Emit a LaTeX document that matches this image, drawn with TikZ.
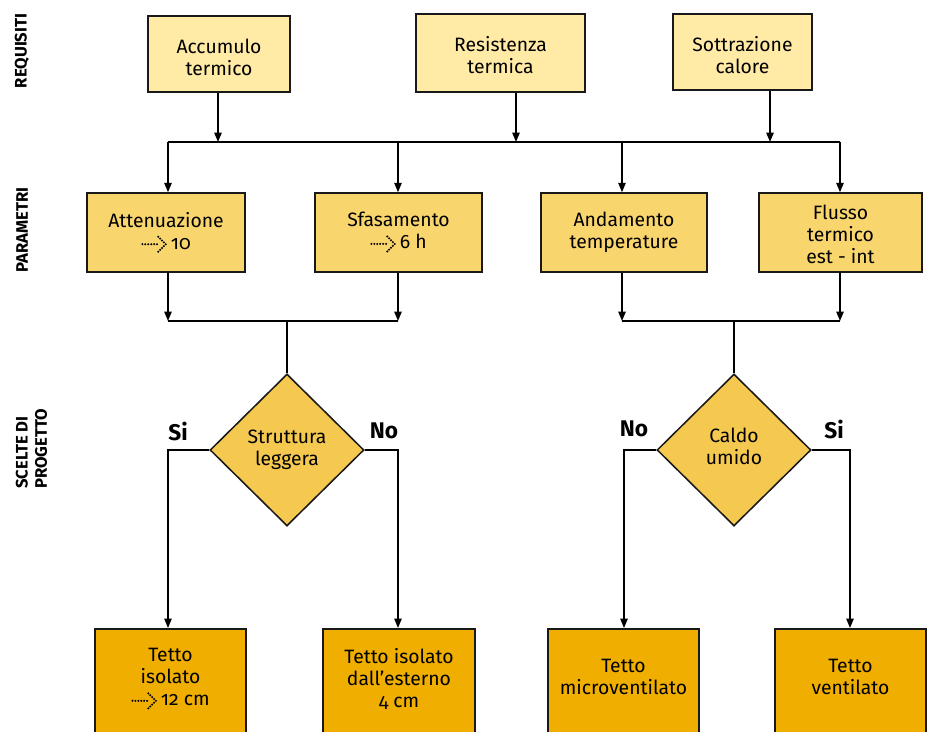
\documentclass[tikz,border=0pt]{standalone}
\usepackage{fontspec}
\setmainfont{Fira Sans}[Numbers=OldStyle]
\usetikzlibrary{arrows.meta,shapes.geometric}
\definecolor{cTop}{HTML}{FFEAA6}
\definecolor{cPar}{HTML}{F9D56E}
\definecolor{cDia}{HTML}{F5C850}
\definecolor{cBot}{HTML}{EFAE00}
\newcommand\fs{\fontsize{14.5}{16.5}\selectfont}
\newcommand\sidefs{\fontsize{12.5}{14.5}\selectfont}
\newcommand\ynfs{\fontsize{17}{19}\selectfont}
\newsavebox\dotarrbox
\newcommand\dotarr{\usebox\dotarrbox\hspace{3pt}}
\newcommand\dotat[2]{\pgfpathcircle{\pgfpoint{#1}{#2}}{0.85pt}}
\tikzset{
  box/.style={draw=black!90, line width=1.15pt, rectangle, align=center, inner sep=2pt, font=\fs},
  topbox/.style={box, fill=cTop},
  parbox/.style={box, fill=cPar, minimum height=59.25pt},
  botbox/.style={box, fill=cBot, minimum height=99pt, anchor=north},
  txt/.style={align=center, font=\fs, inner sep=0pt},
  dia/.style={diamond, draw=black!90, line width=1.15pt, fill=cDia, minimum width=115.5pt, minimum height=114pt, inner sep=0pt, align=center, font=\fs},
  ln/.style={line width=1.1pt},
  arr/.style={ln, -{Triangle[length=7pt,width=5.5pt]}},
  side/.style={rotate=90, font=\sidefs\bfseries, align=left, inner sep=0pt},
  yn/.style={font=\ynfs\bfseries, inner sep=0pt}
}
\begin{document}
\sbox\dotarrbox{\begin{pgfpicture}%
  \pgfsetbaseline{-3.8pt}%
  \dotat{0pt}{0pt}\dotat{2.2pt}{0pt}\dotat{4.4pt}{0pt}\dotat{6.6pt}{0pt}%
  \dotat{8.8pt}{0pt}\dotat{11pt}{0pt}%
  \dotat{16.1pt}{1.4pt}\dotat{14.7pt}{2.8pt}\dotat{13.3pt}{4.2pt}\dotat{11.9pt}{5.6pt}%
  \dotat{16.1pt}{-1.4pt}\dotat{14.7pt}{-2.8pt}\dotat{13.3pt}{-4.2pt}\dotat{11.9pt}{-5.6pt}%
  \dotat{17.5pt}{0pt}%
  \pgfusepath{fill}%
\end{pgfpicture}}%
\begin{tikzpicture}[x=0.75pt,y=-0.75pt]
\useasboundingbox (0,0) rectangle (932,732);
\clip (0,0) rectangle (932,732);

% side labels
\node[side] (sReq) at (22,51) {REQUISITI};
\node[side] (sPar) at (22,230) {PARAMETRI};
\node[side, anchor=west] (sSce) at (31.5,489) {SCELTE DI\\PROGETTO};

% top boxes
\node[topbox, minimum width=106.5pt, minimum height=57pt] (t1) at (219,54) {};
\node[topbox, minimum width=126.75pt, minimum height=58.5pt] (t2) at (500.5,53) {};
\node[topbox, minimum width=104.25pt, minimum height=57pt] (t3) at (742.5,52) {};
\node[txt] (t1t) at (219,57) {Accumulo\\termico};
\node[txt] (t2t) at (500.5,55) {Resistenza\\termica};
\node[txt] (t3t) at (742.5,55) {Sottrazione\\calore};

% parameter boxes
\node[parbox, minimum width=118.5pt] (p1) at (166,232.5) {Attenuazione\\\dotarr 10};
\node[parbox, minimum width=125.25pt] (p2) at (398.5,232.5) {Sfasamento\\\dotarr 6 h};
\node[parbox, minimum width=124.5pt] (p3) at (624,232.5) {Andamento\\temperature};
\node[parbox, minimum width=122.25pt] (p4) at (840.5,232.5) {};
\node[txt] (p4t) at (840.5,234.5) {Flusso\\termico\\est - int};

% diamonds
\node[dia] (d1) at (287,450) {Struttura\\leggera};
\node[dia] (d2) at (734,450) {};
\node[txt] (d2t) at (734,446.5) {Caldo\\umido};

% bottom boxes
\node[botbox, minimum width=113.25pt] (b1) at (170.5,628) {};
\node[botbox, minimum width=114pt] (b2) at (399,628) {};
\node[botbox, minimum width=113.25pt] (b3) at (623.5,628) {};
\node[botbox, minimum width=113.25pt] (b4) at (850.5,628) {};
\node[txt] (b1t) at (170.5,679) {Tetto\\isolato\\\dotarr 12 cm};
\node[txt] (b2t) at (399,679) {Tetto isolato\\dall’esterno\\4 cm};
\node[txt] (b3t) at (623.5,677) {Tetto\\microventilato};
\node[txt] (b4t) at (850.5,677) {Tetto\\ventilato};

% yes / no labels
\node[yn] (si1) at (178,431) {Si};
\node[yn] (no1) at (384,431) {No};
\node[yn] (no2) at (634,429) {No};
\node[yn] (si2) at (834,429) {Si};

% bus coordinates
\coordinate (bus1) at (168,142);
\coordinate (bus2) at (398,142);
\coordinate (bus3) at (622,142);
\coordinate (bus4) at (840,142);
\coordinate (in1) at (218,142);
\coordinate (in2) at (516,142);
\coordinate (in3) at (770,142);
\draw[ln] (bus1) -- (bus4);
\draw[arr] (t1.south -| in1) -- (in1);
\draw[arr] (t2.south -| in2) -- (in2);
\draw[arr] (t3.south -| in3) -- (in3);
\draw[arr] (bus1) -- (p1.north -| bus1);
\draw[arr] (bus2) -- (p2.north -| bus2);
\draw[arr] (bus3) -- (p3.north -| bus3);
\draw[arr] (bus4) -- (p4.north -| bus4);

% collectors
\coordinate (c1) at (168,321);
\coordinate (c2) at (398,321);
\coordinate (c3) at (622,321);
\coordinate (c4) at (840,321);
\coordinate (m1) at (287,321);
\coordinate (m2) at (734,321);
\draw[arr] (p1.south -| c1) -- (c1);
\draw[arr] (p2.south -| c2) -- (c2);
\draw[arr] (p3.south -| c3) -- (c3);
\draw[arr] (p4.south -| c4) -- (c4);
\draw[ln] (c1) -- (c2);
\draw[ln] (c3) -- (c4);
\draw[ln] (m1) -- (d1.north);
\draw[ln] (m2) -- (d2.north);

% branches
\coordinate (e1) at (168,450);
\coordinate (e2) at (398,450);
\coordinate (e3) at (624,450);
\coordinate (e4) at (850,450);
\draw[arr] (d1.west) -- (e1) -- (b1.north -| e1);
\draw[arr] (d1.east) -- (e2) -- (b2.north -| e2);
\draw[arr] (d2.west) -- (e3) -- (b3.north -| e3);
\draw[arr] (d2.east) -- (e4) -- (b4.north -| e4);
\end{tikzpicture}
\end{document}
